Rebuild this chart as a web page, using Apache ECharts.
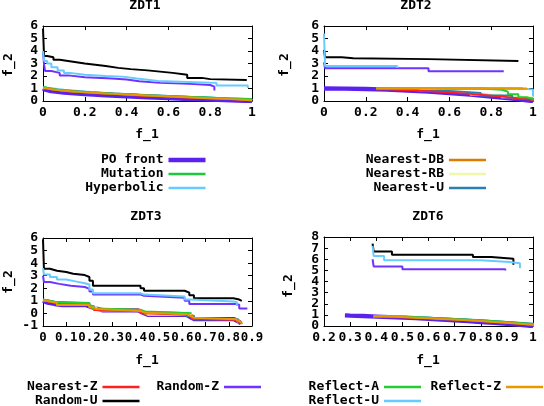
<!DOCTYPE html>
<html><head><meta charset="utf-8">
<script src="https://cdn.jsdelivr.net/npm/echarts@6/dist/echarts.min.js"></script>
<style>html,body{margin:0;padding:0;background:#fff}#c{width:544px;height:406px}</style>
</head><body><div id="c"></div>
<script>
// ---------- names / ticks ----------
const seriesNames = ['PO front','Mutation','Hyperbolic','Nearest-DB','Nearest-RB','Nearest-U','Nearest-Z','Random-Z','Random-U','Reflect-A','Reflect-Z','Reflect-U'];
const plotTitles = ['ZDT1','ZDT2','ZDT3','ZDT6'];
const xMin = [0, 0, 0, 0.2];
const xMax = [1, 1, 0.9, 1];
const xStep = [0.2, 0.2, 0.1, 0.1];
const yMin = [0, 0, -1, 0];
const yMax = [6, 6, 6, 8];
const yStep = [1, 1, 1, 1];
// y tick labels, split in two alternating sets
const yLabelsA = [[0,2,4,6],[0,2,4,6],[-1,1,3,5],[0,2,4,6,8]];
const yLabelsB = [[1,3,5],[1,3,5],[0,2,4,6],[1,3,5,7]];

// ---------- ZDT1 ----------
const zdt1_po = [[0,1.0],[0.01,0.9],[0.03,0.82],[0.06,0.75],[0.1,0.68],[0.15,0.61],[0.2,0.55],[0.3,0.45],[0.4,0.37],[0.5,0.29],[0.6,0.23],[0.7,0.16],[0.8,0.11],[0.9,0.05],[1,0]];
const zdt1_mutation = [[0,1.1],[0.01,0.98],[0.03,0.9],[0.06,0.83],[0.1,0.76],[0.15,0.69],[0.2,0.63],[0.27,0.56],[0.35,0.5],[0.43,0.44],[0.52,0.37],[0.6,0.32],[0.7,0.26],[0.8,0.2],[0.9,0.15],[1.0,0.12]];
const zdt1_hyperbolic = [[0,1.05],[0.03,0.9],[0.1,0.76],[0.2,0.63],[0.3,0.53],[0.45,0.41],[0.6,0.3],[0.75,0.2],[0.9,0.1],[1.0,0.06]];
const zdt1_nearestDB = [[0,1.05],[0.02,0.92],[0.05,0.84],[0.1,0.74],[0.18,0.64],[0.28,0.54],[0.4,0.44],[0.52,0.35],[0.64,0.27],[0.76,0.19],[0.88,0.12],[1.0,0.06]];
const zdt1_nearestRB = [[0,1.02],[0.03,0.88],[0.08,0.78],[0.15,0.68],[0.25,0.57],[0.37,0.46],[0.5,0.36],[0.63,0.27],[0.76,0.18],[0.9,0.1],[1.0,0.05]];
const zdt1_nearestU = [[0,1.05],[0.02,0.9],[0.07,0.8],[0.14,0.7],[0.23,0.6],[0.34,0.5],[0.46,0.4],[0.6,0.3],[0.74,0.2],[0.88,0.12],[1.0,0.06]];
const zdt1_nearestZ = [[0,1.0],[0.02,0.88],[0.06,0.78],[0.12,0.68],[0.2,0.59],[0.28,0.51],[0.38,0.42],[0.48,0.35],[0.58,0.28],[0.68,0.21],[0.78,0.15],[0.88,0.09],[0.97,0.04],[1.0,0.03]];
const zdt1_randomZ = [[0,4.0],[0.005,2.9],[0.01,2.4],[0.04,2.25],[0.08,2.05],[0.12,1.9],[0.2,1.8],[0.33,1.72],[0.4,1.58],[0.46,1.45],[0.56,1.37],[0.7,1.28],[0.8,1.15],[0.82,0.85]];
const zdt1_randomU = [[0,5.8],[0.005,3.6],[0.02,3.5],[0.05,3.3],[0.08,3.2],[0.12,3.1],[0.16,3.0],[0.2,2.9],[0.25,2.8],[0.3,2.65],[0.36,2.55],[0.42,2.45],[0.5,2.35],[0.56,2.25],[0.62,2.1],[0.69,1.85],[0.76,1.75],[0.8,1.68],[0.975,1.68]];
const zdt1_reflectA = [[0,1.08],[0.01,0.96],[0.04,0.88],[0.08,0.8],[0.12,0.73],[0.18,0.66],[0.25,0.59],[0.33,0.52],[0.42,0.45],[0.5,0.39],[0.6,0.33],[0.7,0.27],[0.8,0.21],[0.9,0.16],[1.0,0.13]];
const zdt1_reflectZ = [[0,1.05],[0.01,0.94],[0.04,0.86],[0.08,0.78],[0.13,0.71],[0.19,0.64],[0.26,0.57],[0.34,0.5],[0.42,0.44],[0.5,0.38],[0.58,0.32],[0.66,0.26],[0.74,0.2],[0.82,0.15],[0.9,0.1],[0.96,0.06],[1.0,0.05]];
const zdt1_reflectU = [[0,4.0],[0.005,3.2],[0.02,3.0],[0.04,2.7],[0.07,2.45],[0.1,2.25],[0.13,2.1],[0.2,2.0],[0.3,1.95],[0.38,1.8],[0.45,1.7],[0.5,1.6],[0.55,1.45],[0.83,1.25],[0.98,1.05]];

// ---------- ZDT2 ----------
const zdt2_po = [[0,1.0],[0.1,0.99],[0.2,0.96],[0.3,0.91],[0.4,0.84],[0.5,0.75],[0.6,0.64],[0.7,0.51],[0.8,0.36],[0.9,0.19],[0.95,0.1],[1,0]];
const zdt2_mutation = [[0.43,0.9],[0.5,0.82],[0.55,0.76],[0.6,0.7],[0.65,0.62],[0.7,0.55],[0.75,0.47],[0.8,0.4],[0.85,0.3],[0.9,0.22],[0.95,0.12],[1.0,0.05]];
const zdt2_hyperbolic = [[0.25,1.0],[0.92,0.93],[1.0,0.2]];
const zdt2_nearestDB = [[0.25,1.0],[0.95,0.9]];
const zdt2_nearestRB = [[0.25,0.96],[0.4,0.85],[0.55,0.7],[0.7,0.52],[0.85,0.3],[1.0,0.03]];
const zdt2_nearestU = [[0.25,0.97],[0.45,0.8],[0.6,0.65],[0.75,0.45],[0.9,0.2],[1.0,0.04]];
const zdt2_nearestZ = [[0.25,0.95],[0.3,0.9],[0.35,0.87],[0.4,0.83],[0.45,0.79],[0.5,0.74],[0.55,0.69],[0.6,0.63],[0.65,0.57],[0.7,0.5],[0.75,0.43],[0.8,0.35],[0.85,0.27],[0.9,0.18],[0.95,0.09],[1.0,0.02]];
const zdt2_randomZ = [[0,3.1],[0.005,2.62],[0.5,2.38],[0.86,2.38]];
const zdt2_randomU = [[0,4.1],[0.005,3.5],[0.085,3.42],[0.14,3.35],[0.5,3.2],[0.93,3.2]];
const zdt2_reflectA = [[0.25,1.0],[0.75,0.9],[0.85,0.75],[0.88,0.55],[0.93,0.3],[0.97,0.15],[1.0,0.08]];
const zdt2_reflectZ = [[0.25,1.0],[0.97,0.92]];
const zdt2_reflectU = [[0,5.4],[0.005,2.8],[0.35,2.65]];

// ---------- ZDT3 ----------
const zdt3_po = [[0,1.0],[0.02,0.85],[0.05,0.75],[0.083,0.67],[0.182,0.67],[0.21,0.5],[0.24,0.33],[0.258,0.24],[0.409,0.24],[0.43,0.06],[0.454,-0.12],[0.618,-0.12],[0.635,-0.3],[0.653,-0.46],[0.823,-0.46],[0.84,-0.62],[0.852,-0.77]];
const zdt3_mutation = [[0,1.1],[0.005,1.0],[0.03,0.9],[0.06,0.82],[0.2,0.6],[0.215,0.4],[0.23,0.28],[0.42,0.15],[0.44,0.02],[0.64,0.02]];
const zdt3_hyperbolic = [[0,1.05],[0.01,0.9],[0.06,0.72],[0.2,0.5],[0.23,0.25],[0.42,0.05],[0.44,-0.08],[0.62,-0.2],[0.65,-0.45],[0.84,-0.7],[0.85,-0.78]];
const zdt3_nearestDB = [[0,1.02],[0.01,0.9],[0.04,0.78],[0.07,0.7],[0.2,0.5],[0.22,0.3],[0.42,0.1],[0.44,-0.06],[0.62,-0.18],[0.65,-0.45],[0.835,-0.65],[0.85,-0.8]];
const zdt3_nearestRB = [[0,1.0],[0.02,0.85],[0.07,0.7],[0.2,0.5],[0.23,0.25],[0.42,0.1],[0.45,-0.1],[0.63,-0.25],[0.65,-0.45],[0.84,-0.7],[0.85,-0.76]];
const zdt3_nearestU = [[0,1.03],[0.02,0.88],[0.06,0.74],[0.2,0.52],[0.22,0.28],[0.42,0.08],[0.44,-0.06],[0.62,-0.22],[0.65,-0.46],[0.84,-0.7],[0.85,-0.8]];
const zdt3_nearestZ = [[0,1.0],[0.01,0.88],[0.04,0.76],[0.07,0.66],[0.2,0.46],[0.22,0.28],[0.24,0.18],[0.42,0.02],[0.44,-0.1],[0.62,-0.24],[0.64,-0.42],[0.66,-0.5],[0.83,-0.62],[0.845,-0.78],[0.855,-0.85]];
const zdt3_randomZ = [[0,3.0],[0.004,2.5],[0.03,2.35],[0.07,2.2],[0.12,2.1],[0.18,1.95],[0.2,1.75],[0.215,1.5],[0.42,1.4],[0.435,1.25],[0.61,1.0],[0.63,0.75],[0.83,0.7],[0.845,0.4],[0.88,0.35]];
const zdt3_randomU = [[0,5.9],[0.004,3.55],[0.03,3.4],[0.06,3.3],[0.1,3.15],[0.13,3.05],[0.18,2.9],[0.2,2.6],[0.215,2.2],[0.42,2.0],[0.435,1.8],[0.61,1.65],[0.63,1.45],[0.65,1.2],[0.82,1.1],[0.845,1.0],[0.856,1.0]];
const zdt3_reflectA = [[0,1.08],[0.005,0.98],[0.03,0.88],[0.06,0.8],[0.2,0.58],[0.215,0.38],[0.23,0.27],[0.42,0.13],[0.44,0.01],[0.63,0.01]];
const zdt3_reflectZ = [[0,1.05],[0.005,0.95],[0.03,0.85],[0.06,0.68],[0.2,0.5],[0.215,0.35],[0.23,0.2],[0.42,0.05],[0.44,-0.07],[0.62,-0.2],[0.635,-0.35],[0.65,-0.47],[0.83,-0.6],[0.845,-0.75],[0.855,-0.82]];
const zdt3_reflectU = [[0,3.6],[0.004,3.1],[0.03,2.9],[0.06,2.7],[0.1,2.55],[0.14,2.4],[0.18,2.3],[0.2,1.9],[0.215,1.6],[0.42,1.5],[0.435,1.35],[0.61,1.1],[0.635,0.95],[0.82,0.9],[0.835,0.6]];

// ---------- ZDT6 ----------
const zdt6_po = [[0.28,0.95],[0.3,0.93],[0.35,0.9],[0.4,0.85],[0.45,0.8],[0.5,0.75],[0.55,0.7],[0.6,0.64],[0.65,0.58],[0.7,0.51],[0.75,0.44],[0.8,0.36],[0.85,0.28],[0.9,0.19],[0.95,0.1],[1,0]];
const zdt6_mutation = [[0.39,0.86],[0.45,0.8],[0.52,0.74],[0.6,0.65],[0.68,0.55],[0.76,0.44],[0.84,0.31],[0.92,0.16],[1.0,0.03]];
const zdt6_hyperbolic = [[0.39,0.85],[0.47,0.78],[0.56,0.69],[0.65,0.58],[0.74,0.46],[0.83,0.32],[0.92,0.16],[1.0,0.02]];
const zdt6_nearestDB = [[0.39,0.84],[0.46,0.78],[0.54,0.7],[0.62,0.61],[0.7,0.5],[0.78,0.39],[0.86,0.26],[0.94,0.12],[1.0,0.02]];
const zdt6_nearestRB = [[0.39,0.85],[0.48,0.77],[0.58,0.66],[0.68,0.54],[0.78,0.4],[0.88,0.23],[1.0,0.02]];
const zdt6_nearestU = [[0.39,0.84],[0.5,0.75],[0.6,0.64],[0.7,0.51],[0.8,0.37],[0.9,0.2],[1.0,0.02]];
const zdt6_nearestZ = [[0.39,0.82],[0.44,0.78],[0.5,0.73],[0.56,0.67],[0.62,0.6],[0.68,0.53],[0.74,0.45],[0.8,0.36],[0.86,0.26],[0.92,0.15],[0.97,0.06],[1.0,0.01]];
const zdt6_randomZ = [[0.386,6.0],[0.39,5.35],[0.5,5.1],[0.894,5.0]];
const zdt6_randomU = [[0.386,7.4],[0.39,6.7],[0.46,6.4],[0.77,6.2],[0.84,6.05],[0.925,5.5]];
const zdt6_reflectA = [[0.39,0.87],[0.45,0.81],[0.53,0.73],[0.61,0.64],[0.69,0.54],[0.77,0.43],[0.85,0.3],[0.93,0.15],[1.0,0.03]];
const zdt6_reflectZ = [[0.39,0.85],[0.44,0.8],[0.5,0.75],[0.55,0.7],[0.6,0.64],[0.65,0.58],[0.7,0.51],[0.75,0.44],[0.8,0.37],[0.85,0.29],[0.9,0.2],[0.95,0.11],[1.0,0.02]];
const zdt6_reflectU = [[0.386,7.2],[0.39,6.3],[0.43,5.9],[0.8,5.75],[0.91,5.65],[0.95,5.2]];

// ---------- assembly ----------
const plotSeries = [
  [zdt1_po,zdt1_mutation,zdt1_hyperbolic,zdt1_nearestDB,zdt1_nearestRB,zdt1_nearestU,zdt1_nearestZ,zdt1_randomZ,zdt1_randomU,zdt1_reflectA,zdt1_reflectZ,zdt1_reflectU],
  [zdt2_po,zdt2_mutation,zdt2_hyperbolic,zdt2_nearestDB,zdt2_nearestRB,zdt2_nearestU,zdt2_nearestZ,zdt2_randomZ,zdt2_randomU,zdt2_reflectA,zdt2_reflectZ,zdt2_reflectU],
  [zdt3_po,zdt3_mutation,zdt3_hyperbolic,zdt3_nearestDB,zdt3_nearestRB,zdt3_nearestU,zdt3_nearestZ,zdt3_randomZ,zdt3_randomU,zdt3_reflectA,zdt3_reflectZ,zdt3_reflectU],
  [zdt6_po,zdt6_mutation,zdt6_hyperbolic,zdt6_nearestDB,zdt6_nearestRB,zdt6_nearestU,zdt6_nearestZ,zdt6_randomZ,zdt6_randomU,zdt6_reflectA,zdt6_reflectZ,zdt6_reflectU]
];

const colors = ['#5b22ee','#1ec83c','#66ccff','#e07b00','#eef8a8','#2a7fb5','#ff2020','#7033ff','#000000','#22cc33','#e59a00','#66ccff'];
const FONT = 'DejaVu Sans Mono';
const grids = [
  {left:43, top:26, width:209, height:75},
  {left:324, top:26, width:209, height:75},
  {left:43, top:238, width:209, height:88},
  {left:324, top:237, width:209, height:89}
];
const tickLabel = {color:'#000', fontFamily:FONT, fontWeight:'bold', fontSize:13};
const xFont = [13, 13, 12.4, 13];
const xAxis = [], yAxis = [], series = [];
for (let p = 0; p < 4; p++) {
  ['bottom','top'].forEach((pos, k) => {
    xAxis.push({type:'value', gridIndex:p, position:pos, min:xMin[p], max:xMax[p], interval:xStep[p],
      axisLine:{show:true, onZero:false, lineStyle:{color:'#000', width:1}},
      axisTick:{show:true, inside:true, length:4, lineStyle:{color:'#000'}},
      axisLabel:{show:k===0, margin:6, showMinLabel:true, showMaxLabel:true, hideOverlap:false, ...tickLabel, fontSize:xFont[p], lineHeight:11},
      splitLine:{show:false}});
  });
  // left axis: line, ticks and half of the labels
  yAxis.push({type:'value', gridIndex:p, position:'left', min:yMin[p], max:yMax[p], interval:yStep[p],
    axisLine:{show:true, onZero:false, lineStyle:{color:'#000', width:1}},
    axisTick:{show:true, inside:true, length:4, lineStyle:{color:'#000'}},
    axisLabel:{show:true, margin:5, customValues:yLabelsA[p], ...tickLabel},
    splitLine:{show:false}});
  // right axis: border line and ticks; its labels carried across to the left edge
  yAxis.push({type:'value', gridIndex:p, position:'right', min:yMin[p], max:yMax[p], interval:yStep[p],
    axisLine:{show:true, onZero:false, lineStyle:{color:'#000', width:1}},
    axisTick:{show:true, inside:true, length:4, lineStyle:{color:'#000'}},
    axisLabel:{show:true, inside:true, margin:grids[p].width + 5, customValues:yLabelsB[p], ...tickLabel},
    splitLine:{show:false}});
  plotSeries[p].forEach((data, i) => {
    series.push({
      name: seriesNames[i], type:'line', xAxisIndex:2*p, yAxisIndex:2*p,
      data: data, step: i === 0 ? false : 'end', symbol:'none', silent:true,
      lineStyle:{color:colors[i], width: i === 0 ? 4.3 : 2},
      itemStyle:{color:colors[i]}, animation:false
    });
  });
}

// legends: [name index, right offset, row centre y]
const legendPos = [
  [0, 338.5, 160], [1, 338.5, 174], [2, 338.5, 188],
  [3, 58, 160], [4, 58, 174], [5, 58, 188],
  [6, 404.5, 387], [7, 283, 387], [8, 404.5, 401],
  [9, 123, 387], [10, 1, 387], [11, 123, 401]
];
const legend = legendPos.map(([i, r, y]) => ({
  data:[seriesNames[i]], orient:'vertical', align:'right', right:r, top:y-7,
  padding:0, itemWidth:37, itemHeight: i === 0 ? 4.3 : 2.5, icon:'rect',
  selectedMode:false, textStyle:{...tickLabel, lineHeight:14}
}));

const txt = (s, x, y, rot) => ({type:'text', x:x, y:y, rotation:rot||0, silent:true,
  style:{text:s, fill:'#000', font:'bold 13px "' + FONT + '"', align:'center', verticalAlign:'middle'}});
const graphic = [
  txt(plotTitles[0], 145, 6), txt(plotTitles[1], 416, 6),
  txt(plotTitles[2], 146, 217), txt(plotTitles[3], 428, 217),
  txt('f_1', 147, 135), txt('f_1', 428, 135),
  txt('f_1', 147, 361), txt('f_1', 428, 361),
  txt('f_2', 9, 65, Math.PI/2), txt('f_2', 285, 65, Math.PI/2),
  txt('f_2', 9, 282, Math.PI/2), txt('f_2', 289, 286, Math.PI/2)
];

const chart = echarts.init(document.getElementById('c'), null, {renderer:'canvas'});
chart.setOption({animation:false, backgroundColor:'#fff', grid:grids, xAxis, yAxis, series, legend, graphic});
</script></body></html>
